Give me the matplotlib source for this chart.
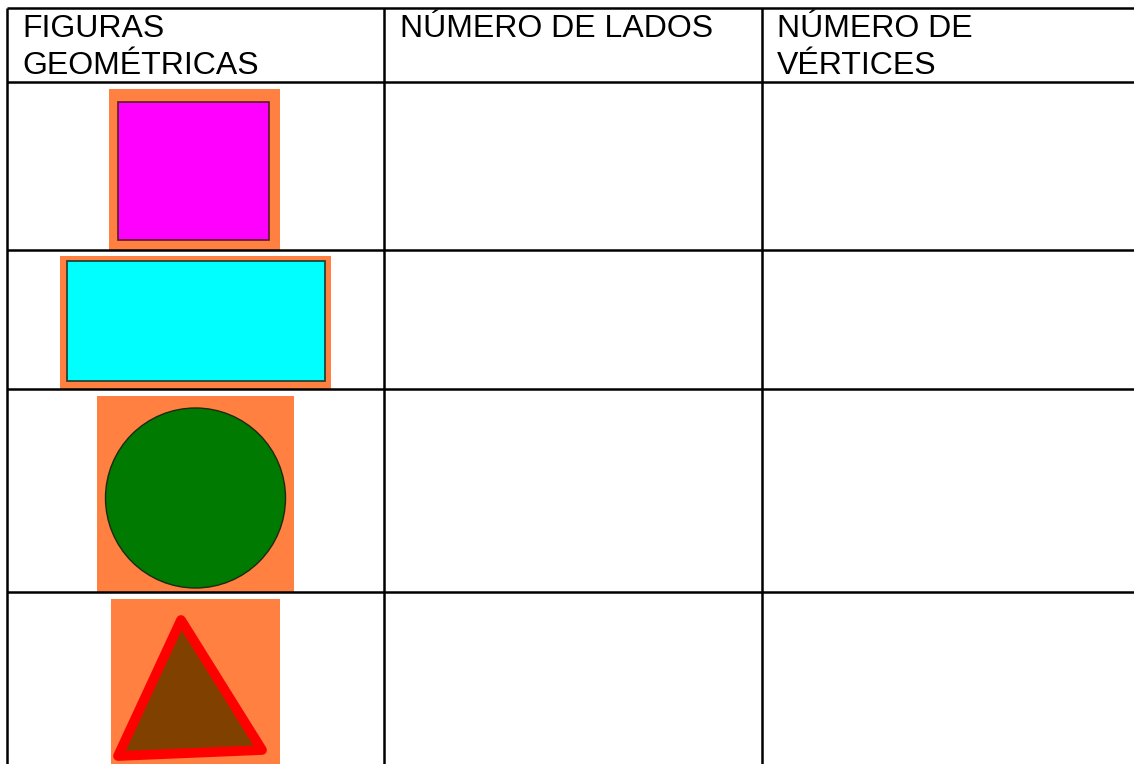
import matplotlib
matplotlib.use("Agg")
import matplotlib.pyplot as plt
from matplotlib.patches import Rectangle, Circle, Polygon

# ---- data ----
header_lines = [["FIGURAS", "GEOMÉTRICAS"], ["NÚMERO DE LADOS"], ["NÚMERO DE", "VÉRTICES"]]
shapes = ["cuadrado", "rectángulo", "círculo", "triángulo"]
shape_fill = ["#FF00FF", "#00FFFF", "#007A00", "#7F4000"]
background = "#FF8040"

# ---- layout (pixel coordinates) ----
W, H = 1134, 764
col_x = [7, 384, 762]
row_y = [8, 82, 250, 389, 592]

fig = plt.figure(figsize=(W / 100, H / 100), dpi=100)
ax = fig.add_axes([0, 0, 1, 1])
ax.set_xlim(0, W)
ax.set_ylim(H, 0)
ax.axis("off")

lw = 1.8
for y in row_y:
    ax.plot([col_x[0], W], [y, y], color="black", lw=lw, solid_capstyle="butt")
for x in col_x:
    ax.plot([x, x], [row_y[0], H], color="black", lw=lw, solid_capstyle="butt")

font = dict(family="Liberation Sans", fontsize=23, color="black")
text_x = [22, 400, 777]
baselines = [37, 74]
for tx, lines in zip(text_x, header_lines):
    for bl, line in zip(baselines, lines):
        ax.text(tx, bl, line, va="baseline", ha="left", **font)

edge = "#5A1A2A"
# square
ax.add_patch(Rectangle((109, 89), 171, 161, color=background, lw=0))
ax.add_patch(Rectangle((118, 102), 151, 138, facecolor=shape_fill[0], edgecolor=edge, lw=1.2))
# rectangle
ax.add_patch(Rectangle((60, 256), 271, 134, color=background, lw=0))
ax.add_patch(Rectangle((67, 261), 258, 120, facecolor=shape_fill[1], edgecolor="#1A3A2A", lw=1.2))
# circle
ax.add_patch(Rectangle((97, 396), 197, 196, color=background, lw=0))
ax.add_patch(Circle((195.5, 498), 90, facecolor=shape_fill[2], edgecolor="#1A2A10", lw=1.0))
# triangle
ax.add_patch(Rectangle((111, 599), 169, 170, color=background, lw=0))
ax.add_patch(Polygon([(181, 620), (118, 756), (262, 750)], closed=True,
                     facecolor=shape_fill[3], edgecolor="#FF0000", lw=7, joinstyle="round"))

fig.savefig("out.png", dpi=100)
